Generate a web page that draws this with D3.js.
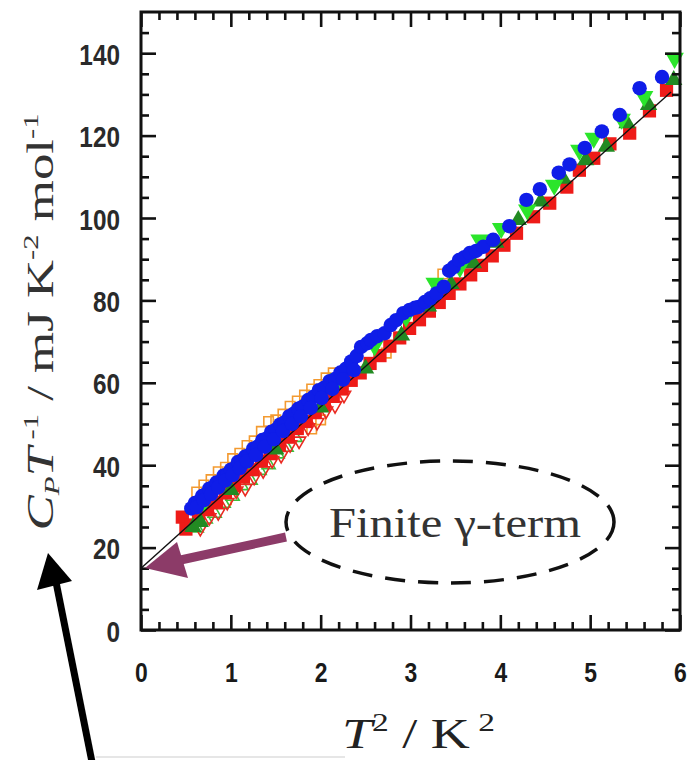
<!DOCTYPE html>
<html><head><meta charset="utf-8">
<script src="https://cdn.jsdelivr.net/npm/d3@7"></script>
<style>html,body{margin:0;padding:0;background:#fff;} svg{display:block;}</style>
</head><body>
<svg id="c" width="694" height="760"></svg>
<script>
// ---- tick data ----
const xTicks = [0, 1, 2, 3, 4, 5, 6];
const yTicks = [0, 20, 40, 60, 80, 100, 120, 140];
const xMinor = [0.2,0.4,0.6,0.8,1.2,1.4,1.6,1.8,2.2,2.4,2.6,2.8,3.2,3.4,3.6,3.8,4.2,4.4,4.6,4.8,5.2,5.4,5.6,5.8];
const yMinor = [5,10,15,25,30,35,45,50,55,65,70,75,85,90,95,105,110,115,125,130,135,145];

// ---- linear fit (gamma term) ----
const fitX = [0, 5.9];
const fitY = [15, 130.6];

// ---- series ----
const blueX = [0.56,0.60,0.64,0.68,0.72,0.76,0.80,0.84,0.88,0.92,0.96,1.00,1.04,1.08,1.12,1.16,1.20,1.25,1.30,1.35,1.40,1.45,1.50,1.55,1.60,1.65,1.70,1.75,1.80,1.86,1.92,1.98,2.04,2.10,2.16,2.22,2.28,2.34,2.40,2.45,2.52,2.56,2.63,2.71,2.78,2.84,2.92,2.99,3.05,3.09,3.16,3.22,3.29,3.37,3.43,3.48,3.54,3.60,3.66,3.73,3.81,3.92,4.10,4.29,4.44,4.65,4.77,4.94,5.13,5.33,5.55,5.80,
  0.62,0.70,0.78,0.86,0.94,1.02,1.10,1.18,1.28,1.38,1.48,1.58,1.68,1.78,1.89,2.01,2.13,2.25,2.37];
const blueY = [29.5,30.8,31.1,32.5,32.9,34.3,34.6,35.8,35.9,37.5,37.8,38.9,39.2,40.8,41.1,42.1,42.4,44.0,44.5,46.1,46.5,48.1,48.6,49.9,50.4,51.9,52.5,53.7,54.2,55.8,56.6,58.2,58.8,60.4,60.9,62.5,63.4,65.2,66.5,68.7,69.6,70.4,71.3,72.0,74.0,75.2,76.9,77.7,78.2,78.4,79.6,80.5,81.7,83.3,87.2,88.1,89.8,90.5,91.5,92.0,93.0,94.7,98.0,104.4,107.0,111.0,113.0,117.0,121.0,125.0,131.5,134.2,
  29.8,31.5,33.0,34.6,36.3,37.6,39.3,40.9,42.5,44.5,46.3,48.3,50.0,51.8,53.9,56.3,58.5,60.8,63.1];

const redX = [0.46,0.50,0.56,0.64,0.74,0.84,0.94,1.04,1.14,1.24,1.34,1.44,1.54,1.64,1.74,1.84,1.94,2.04,2.14,2.24,2.34,2.44,2.55,2.66,2.77,2.88,2.99,3.10,3.21,3.32,3.43,3.55,3.67,3.79,3.91,4.04,4.18,4.37,4.55,4.74,4.88,5.04,5.22,5.44,5.66,5.85];
const redY = [27.4,24.5,25.5,27.3,29.2,31.0,33.3,35.0,37.1,38.9,41.0,42.8,45.0,46.8,48.9,50.6,52.9,54.6,56.7,58.5,60.6,62.4,64.7,66.6,68.9,70.9,73.2,75.3,77.4,79.5,81.7,84.0,86.2,88.5,90.8,93.4,96.3,100.3,103.6,107.5,111.6,114.5,118.0,120.6,126.0,131.0];

const darkGreenX = [0.58,0.66,1.00,1.50,2.00,2.50,2.90,3.20,3.45,3.70,3.95,4.20,4.45,4.70,4.95,5.18,5.41,5.65,5.93];
const darkGreenY = [25.0,26.2,34.0,43.8,54.0,63.5,71.5,78.5,84.0,89.0,94.0,99.5,104.0,109.5,114.0,117.3,123.0,127.4,133.5];

const limeX = [0.70,1.20,1.70,2.20,2.60,2.95,3.27,3.55,3.77,4.01,4.30,4.60,4.88,5.04,5.35,5.60,5.94];
const limeY = [31.0,41.5,51.0,61.0,69.0,76.0,84.2,88.0,94.7,97.5,102.0,108.0,116.5,119.4,124.0,129.5,138.8];

const orangeOpenX = [0.62,0.70,0.78,0.86,0.94,0.95,1.02,1.10,1.18,1.26,1.34,1.42,1.50,1.58,1.66,1.74,1.82,1.90,1.90,1.98,2.00,2.06,2.14,2.73,3.36];
const orangeOpenY = [33.5,35.2,36.5,38.4,39.5,31.6,41.6,42.9,44.8,45.9,48.2,50.6,51.0,52.4,54.3,55.6,57.0,58.5,48.8,59.6,51.0,61.2,62.4,67.2,86.4];

const redOpenX = [0.66,0.76,0.86,0.96,1.06,1.16,1.26,1.36,1.46,1.56,1.66,1.76,1.86,1.96,2.06,2.16,2.26];
const redOpenY = [24.7,27.3,28.5,31.0,33.8,34.4,37.1,38.7,41.2,42.4,45.0,45.9,49.1,50.4,53.2,54.5,57.0];

const greenOpenX = [0.62,0.72,0.82,0.92,1.02,1.12,1.22,1.32,1.42,1.52,1.62,1.72];
const greenOpenY = [24.7,26.9,28.3,30.7,32.4,35.0,36.3,38.7,40.1,42.7,44.3,46.7];

const annotation = "Finite \u03b3-term";

// ---- drawing ----
const svg = d3.select("#c");
const x = d3.scaleLinear().domain([0, 6]).range([141, 680]);
const y = d3.scaleLinear().domain([0, 150]).range([630, 12]);

const zip = (a, b) => a.map((v, i) => [v, b[i]]);

function drawSeries(xs, ys, type, size, opts, rot) {
  const g = svg.append("g");
  g.selectAll("path").data(zip(xs, ys)).join("path")
    .attr("d", d3.symbol().type(type).size(size))
    .attr("transform", d => `translate(${x(d[0])},${y(d[1])})` + (rot ? ` rotate(${rot})` : ""))
    .attr("fill", opts.fill)
    .attr("stroke", opts.stroke || "none")
    .attr("stroke-width", opts.sw || 0);
}

// open markers
drawSeries(orangeOpenX, orangeOpenY, d3.symbolSquare, 90, {fill: "none", stroke: "#f39a30", sw: 1.6});
drawSeries(greenOpenX, greenOpenY, d3.symbolTriangle, 75, {fill: "#ffffff", stroke: "#3cbf3c", sw: 1.6});
drawSeries(redOpenX, redOpenY, d3.symbolTriangle, 75, {fill: "none", stroke: "#ea2a22", sw: 1.6}, 180);

// filled markers
drawSeries(redX, redY, d3.symbolSquare, 175, {fill: "#ee1b18"});
drawSeries(darkGreenX, darkGreenY, d3.symbolTriangle, 130, {fill: "#228a22"});
drawSeries(limeX, limeY, d3.symbolTriangle, 150, {fill: "#2be52b"}, 180);

// fit line
svg.append("path")
  .datum(zip(fitX, fitY))
  .attr("d", d3.line().x(d => x(d[0])).y(d => y(d[1])))
  .attr("stroke", "#111").attr("stroke-width", 1.4).attr("fill", "none");

drawSeries(blueX, blueY, d3.symbolCircle, 165, {fill: "#0f1de8"});

// axes: inward ticks on all four sides
const ink = "#111";
function axis(gen, tx, ty) {
  const g = svg.append("g").attr("transform", `translate(${tx},${ty})`).call(gen);
  g.select(".domain").remove();
  g.selectAll(".tick line").attr("stroke", ink).attr("stroke-width", 2.6);
  return g;
}
const MAJ = 15, MIN = 8;
axis(d3.axisLeft(y).tickValues(yMinor).tickSize(-MIN).tickFormat(""), x(0), 0);
axis(d3.axisRight(y).tickValues(yMinor).tickSize(-MIN).tickFormat(""), x(6), 0);
axis(d3.axisRight(y).tickValues(yTicks).tickSize(-MAJ).tickFormat(""), x(6), 0);
axis(d3.axisBottom(x).tickValues(xMinor).tickSize(-MIN).tickFormat(""), 0, y(0));
axis(d3.axisTop(x).tickValues(xMinor).tickSize(-MIN).tickFormat(""), 0, y(150));
axis(d3.axisTop(x).tickValues(xTicks).tickSize(-MAJ).tickFormat(""), 0, y(150));

const yAx = axis(d3.axisLeft(y).tickValues(yTicks).tickSize(-MAJ).tickPadding(0).tickFormat(d3.format("d")), x(0), 0);
yAx.selectAll(".tick text")
  .attr("x", 0).attr("dy", null).attr("text-anchor", "end")
  .attr("transform", "translate(-21,11) scale(0.84,1)")
  .style("font-family", "'Liberation Sans', Arial, sans-serif")
  .style("font-weight", "bold").style("font-size", "29px").attr("fill", "#2a2a2a");

const xAx = axis(d3.axisBottom(x).tickValues(xTicks).tickSize(-MAJ).tickFormat(d3.format("d")), 0, y(0));
xAx.selectAll(".tick text")
  .attr("y", 0).attr("dy", null).attr("text-anchor", "middle")
  .attr("transform", "translate(0,52) scale(0.85,1)")
  .style("font-family", "'Liberation Sans', Arial, sans-serif")
  .style("font-weight", "bold").style("font-size", "27px").attr("fill", "#1a1a1a");

// frame
svg.append("rect").attr("x", x(0)).attr("y", y(150))
  .attr("width", x(6) - x(0)).attr("height", y(0) - y(150))
  .attr("fill", "none").attr("stroke", ink).attr("stroke-width", 3);

// y title
const yt = svg.append("text")
  .attr("transform", "translate(53,322) rotate(-90)")
  .attr("text-anchor", "middle")
  .attr("font-family", "'Liberation Serif', 'Times New Roman', serif")
  .attr("font-size", 38).attr("fill", "#333")
  .attr("textLength", 417).attr("lengthAdjust", "spacingAndGlyphs");
yt.append("tspan").attr("font-style", "italic").text("C");
yt.append("tspan").attr("font-style", "italic").attr("font-size", 22).attr("dy", 6).text("P");
yt.append("tspan").attr("font-style", "italic").attr("dy", -6).text("T");
yt.append("tspan").attr("font-size", 22).attr("dy", -15).text(" -1");
yt.append("tspan").attr("dy", 15).text(" / mJ K");
yt.append("tspan").attr("font-size", 22).attr("dy", -15).text("-2");
yt.append("tspan").attr("dy", 15).text(" mol");
yt.append("tspan").attr("font-size", 22).attr("dy", -15).text("-1");

// x title
const xt = svg.append("text")
  .attr("x", 342).attr("y", 748)
  .attr("font-family", "'Liberation Serif', 'Times New Roman', serif")
  .attr("font-size", 42).attr("fill", "#222")
  .attr("textLength", 153).attr("lengthAdjust", "spacingAndGlyphs");
xt.append("tspan").attr("font-style", "italic").text("T");
xt.append("tspan").attr("font-size", 26).attr("dy", -17).text("2");
xt.append("tspan").attr("dy", 17).text(" / K");
xt.append("tspan").attr("font-size", 26).attr("dy", -17).text(" 2");

// dashed ellipse + annotation
svg.append("ellipse").attr("cx", 450).attr("cy", 522).attr("rx", 164).attr("ry", 61)
  .attr("fill", "none").attr("stroke", "#111").attr("stroke-width", 3.5)
  .attr("stroke-dasharray", "20 13");
svg.append("text").attr("x", 329).attr("y", 537)
  .attr("font-family", "'Liberation Serif', 'Times New Roman', serif")
  .attr("font-size", 42).attr("fill", "#333")
  .attr("textLength", 252).attr("lengthAdjust", "spacingAndGlyphs")
  .text(annotation);

// purple arrow pointing at the intercept
const purple = "#8c3b68";
svg.append("line").attr("x1", 286).attr("y1", 537).attr("x2", 176).attr("y2", 561)
  .attr("stroke", purple).attr("stroke-width", 9);
svg.append("polygon").attr("points", "145,568 177,542 188,578").attr("fill", purple);

// black arrow pointing at the axis title
svg.append("line").attr("x1", 92).attr("y1", 762).attr("x2", 56).attr("y2", 582)
  .attr("stroke", "#000").attr("stroke-width", 7);
svg.append("polygon").attr("points", "48,553 37,590 72,581").attr("fill", "#000");

// faint bottom strip
svg.append("line").attr("x1", 96).attr("y1", 757).attr("x2", 345).attr("y2", 757)
  .attr("stroke", "#e6e6e6").attr("stroke-width", 2);
</script>
</body></html>
